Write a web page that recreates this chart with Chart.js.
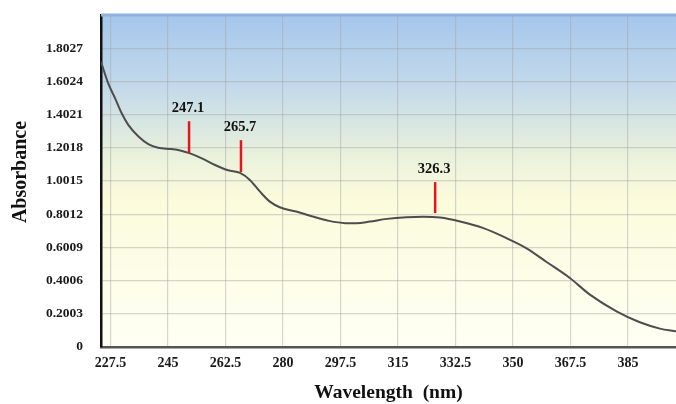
<!DOCTYPE html>
<html>
<head>
<meta charset="utf-8">
<script src="https://cdn.jsdelivr.net/npm/chart.js@4"></script>
<style>
  body { margin: 0; background: #ffffff; }
</style>
</head>
<body>
<canvas id="specChart" width="676" height="404"></canvas>
<script>
// wavelength (nm) and absorbance
const wavelengths = [224.6, 226.8, 228.9, 230.9, 232.9, 236, 239, 242, 246, 249, 251.7, 255.3, 259.3, 263.3, 266.9,
    269.9, 273, 276, 279, 284, 289, 294, 299, 302.4, 306.5, 311.6, 317.6, 322.7, 327.8, 333.9, 341, 348, 354, 360,
    367.3, 373.4, 381.5, 388.6, 394.7, 399.6];
const absorbance = [1.72, 1.59, 1.50, 1.41, 1.34, 1.27, 1.224, 1.202, 1.194, 1.184, 1.168, 1.138, 1.098, 1.066, 1.050,
    1.008, 0.937, 0.877, 0.843, 0.817, 0.787, 0.761, 0.747, 0.746, 0.757, 0.773, 0.783, 0.786, 0.781, 0.757, 0.717,
    0.657, 0.597, 0.516, 0.416, 0.316, 0.215, 0.149, 0.111, 0.095];

const xTicks = [227.5, 245, 262.5, 280, 297.5, 315, 332.5, 350, 367.5, 385];
const yTicks = [0, 0.2003, 0.4006, 0.6009, 0.8012, 1.0015, 1.2018, 1.4021, 1.6024, 1.8027];

// peak markers: label, where the red tick is drawn, its top and bottom
const peakLabels = ['247.1', '265.7', '326.3'];
const peakX = [251.4, 267.2, 326.3];
const peakTop = [1.362, 1.248, 0.995];
const peakBottom = [1.170, 1.056, 0.808];

const serif = '"Liberation Serif", "Times New Roman", serif';

const decorPlugin = {
    id: 'decor',
    beforeDraw(chart) {
        const { ctx, chartArea: a } = chart;
        const g = ctx.createLinearGradient(0, a.top, 0, a.bottom);
        g.addColorStop(0, '#a5c6ec');
        g.addColorStop(0.22, '#c4daea');
        g.addColorStop(0.42, '#e9f1dc');
        g.addColorStop(0.55, '#fbfbdc');
        g.addColorStop(1, '#fffff4');
        ctx.save();
        ctx.fillStyle = g;
        ctx.fillRect(a.left, a.top, a.right - a.left, a.bottom - a.top);
        ctx.restore();
    },
    afterDraw(chart) {
        const { ctx, chartArea: a, scales } = chart;
        ctx.save();
        // top frame line
        ctx.strokeStyle = '#8db2de';
        ctx.lineWidth = 3;
        ctx.beginPath();
        ctx.moveTo(a.left, a.top);
        ctx.lineTo(a.right, a.top);
        ctx.stroke();

        // peak markers
        ctx.strokeStyle = '#e3161b';
        ctx.lineWidth = 2.5;
        ctx.fillStyle = '#111';
        ctx.font = 'bold 14.5px ' + serif;
        ctx.textAlign = 'center';
        ctx.textBaseline = 'middle';
        peakLabels.forEach((lab, i) => {
            const x = scales.x.getPixelForValue(peakX[i]);
            const y1 = scales.y.getPixelForValue(peakTop[i]);
            const y2 = scales.y.getPixelForValue(peakBottom[i]);
            ctx.beginPath();
            ctx.moveTo(x, y1);
            ctx.lineTo(x, y2);
            ctx.stroke();
            ctx.fillText(lab, x - 1, y1 - 13);
        });

        // axis titles
        ctx.fillStyle = '#111';
        ctx.font = 'bold 19.5px ' + serif;
        ctx.fillText('Wavelength  (nm)', (a.left + a.right) / 2, 393);
        ctx.font = 'bold 20px ' + serif;
        ctx.translate(21, 172);
        ctx.rotate(-Math.PI / 2);
        ctx.fillText('Absorbance', 0, 0);
        ctx.restore();
    }
};

const ctx = document.getElementById('specChart').getContext('2d');

const spectrumChart = new Chart(ctx, {
    type: 'line',
    data: {
        datasets: [{
            label: 'Absorbance',
            data: wavelengths.map((w, i) => ({ x: w, y: absorbance[i] })),
            borderColor: '#4d4d4d',
            borderWidth: 2,
            pointRadius: 0,
            cubicInterpolationMode: 'monotone',
            fill: false
        }]
    },
    options: {
        responsive: false,
        animation: false,
        layout: { padding: { left: 0, top: 15, right: 0, bottom: 0 } },
        plugins: {
            legend: { display: false },
            tooltip: { enabled: false }
        },
        scales: {
            x: {
                type: 'linear',
                min: 224.6,
                max: 399.6,
                afterBuildTicks: (scale) => { scale.ticks = xTicks.map(v => ({ value: v })); },
                afterFit: (scale) => { scale.height = 57; scale.paddingLeft = 0; scale.paddingRight = 0; },
                ticks: {
                    autoSkip: false,
                    maxRotation: 0,
                    padding: 8,
                    color: '#1a1a1a',
                    font: { family: serif, size: 14, weight: 'bold' },
                    callback: (v) => String(v)
                },
                grid: {
                    color: 'rgba(165,165,165,0.45)',
                    drawTicks: false,
                    lineWidth: 1.2
                },
                border: { display: true, color: '#555', width: 2.5 }
            },
            y: {
                min: 0,
                max: 2.003,
                afterBuildTicks: (scale) => { scale.ticks = yTicks.map(v => ({ value: v })); },
                afterFit: (scale) => { scale.width = 101; scale.paddingTop = 0; scale.paddingBottom = 0; },
                ticks: {
                    padding: 18,
                    color: '#1a1a1a',
                    font: { family: serif, size: 13.5, weight: 'bold' },
                    callback: (v) => String(v)
                },
                grid: {
                    color: 'rgba(165,165,165,0.45)',
                    drawTicks: false,
                    lineWidth: 1.2
                },
                border: { display: true, color: '#111', width: 2.5 }
            }
        }
    },
    plugins: [decorPlugin]
});
</script>
</body>
</html>
